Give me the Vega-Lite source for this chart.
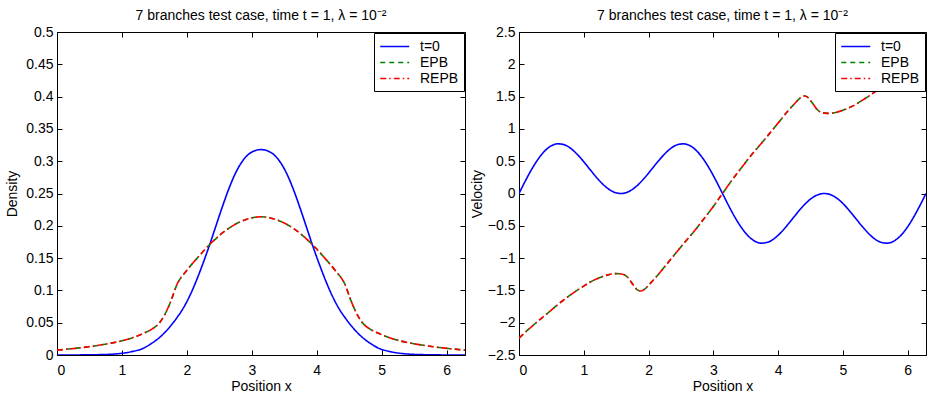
{
  "$schema": "https://vega.github.io/schema/vega-lite/v6.json",
  "padding": {"left": 5, "top": 8, "right": 0, "bottom": 0},
  "background": "white",
  "config": {
    "font": "Liberation Sans",
    "view": {"stroke": "black", "strokeWidth": 1},
    "axis": {"grid": false, "domain": false, "ticks": true, "tickColor": "black", "tickWidth": 1, "tickOpacity": 1, "zindex": 1, "labelColor": "black", "titleColor": "black", "labelFontSize": 14, "titleFontSize": 14, "titleFontWeight": "normal", "tickSize": 5, "offset": -5, "labelFont": "Liberation Sans", "titleFont": "Liberation Sans", "minExtent": 0},
    "axisX": {"labelPadding": 8, "titlePadding": 2},
    "axisY": {"labelPadding": 4},
    "title": {"fontSize": 14, "fontWeight": "normal", "offset": 2, "baseline": "alphabetic", "color": "black", "font": "Liberation Sans"},
    "legend": {"orient": "top-right", "offset": 1, "strokeColor": "black", "fillColor": "white", "padding": 5, "labelFontSize": 14, "symbolType": "M-1,0H3", "symbolSize": 210, "symbolStrokeWidth": 1.6, "rowPadding": 0, "labelOffset": 24, "cornerRadius": 0, "labelColor": "black", "labelFont": "Liberation Sans"}
  },
  "datasets": {
    "dens": [
      {"s": "t=0", "x": 0, "y": 0},
      {"s": "t=0", "x": 0.3416, "y": 0.0001},
      {"s": "t=0", "x": 0.6416, "y": 0.0005},
      {"s": "t=0", "x": 0.9416, "y": 0.002},
      {"s": "t=0", "x": 1.1416, "y": 0.005},
      {"s": "t=0", "x": 1.3416, "y": 0.011},
      {"s": "t=0", "x": 1.4416, "y": 0.017},
      {"s": "t=0", "x": 1.5416, "y": 0.024},
      {"s": "t=0", "x": 1.6416, "y": 0.033},
      {"s": "t=0", "x": 1.7416, "y": 0.044},
      {"s": "t=0", "x": 1.8416, "y": 0.057},
      {"s": "t=0", "x": 1.9416, "y": 0.072},
      {"s": "t=0", "x": 2.0416, "y": 0.091},
      {"s": "t=0", "x": 2.1416, "y": 0.114},
      {"s": "t=0", "x": 2.2416, "y": 0.14},
      {"s": "t=0", "x": 2.3416, "y": 0.168},
      {"s": "t=0", "x": 2.4416, "y": 0.198},
      {"s": "t=0", "x": 2.5416, "y": 0.228},
      {"s": "t=0", "x": 2.6416, "y": 0.256},
      {"s": "t=0", "x": 2.7416, "y": 0.28},
      {"s": "t=0", "x": 2.8416, "y": 0.298},
      {"s": "t=0", "x": 2.9416, "y": 0.31},
      {"s": "t=0", "x": 3.0416, "y": 0.316},
      {"s": "t=0", "x": 3.1416, "y": 0.318},
      {"s": "t=0", "x": 3.2416, "y": 0.316},
      {"s": "t=0", "x": 3.3416, "y": 0.31},
      {"s": "t=0", "x": 3.4416, "y": 0.298},
      {"s": "t=0", "x": 3.5416, "y": 0.28},
      {"s": "t=0", "x": 3.6416, "y": 0.256},
      {"s": "t=0", "x": 3.7416, "y": 0.228},
      {"s": "t=0", "x": 3.8416, "y": 0.198},
      {"s": "t=0", "x": 3.9416, "y": 0.168},
      {"s": "t=0", "x": 4.0416, "y": 0.14},
      {"s": "t=0", "x": 4.1416, "y": 0.114},
      {"s": "t=0", "x": 4.2416, "y": 0.091},
      {"s": "t=0", "x": 4.3416, "y": 0.072},
      {"s": "t=0", "x": 4.4416, "y": 0.057},
      {"s": "t=0", "x": 4.5416, "y": 0.044},
      {"s": "t=0", "x": 4.6416, "y": 0.033},
      {"s": "t=0", "x": 4.7416, "y": 0.024},
      {"s": "t=0", "x": 4.8416, "y": 0.017},
      {"s": "t=0", "x": 4.9416, "y": 0.011},
      {"s": "t=0", "x": 5.1416, "y": 0.005},
      {"s": "t=0", "x": 5.3416, "y": 0.002},
      {"s": "t=0", "x": 5.6416, "y": 0.0005},
      {"s": "t=0", "x": 5.9416, "y": 0.0001},
      {"s": "t=0", "x": 6.2832, "y": 0},
      {"s": "EPB", "x": 0, "y": 0.0075},
      {"s": "EPB", "x": 0.3416, "y": 0.011},
      {"s": "EPB", "x": 0.6416, "y": 0.015},
      {"s": "EPB", "x": 1.0016, "y": 0.022},
      {"s": "EPB", "x": 1.1416, "y": 0.026},
      {"s": "EPB", "x": 1.3416, "y": 0.034},
      {"s": "EPB", "x": 1.4616, "y": 0.04},
      {"s": "EPB", "x": 1.5716, "y": 0.049},
      {"s": "EPB", "x": 1.6516, "y": 0.061},
      {"s": "EPB", "x": 1.7516, "y": 0.083},
      {"s": "EPB", "x": 1.8516, "y": 0.11},
      {"s": "EPB", "x": 1.9916, "y": 0.13},
      {"s": "EPB", "x": 2.1416, "y": 0.148},
      {"s": "EPB", "x": 2.3916, "y": 0.175},
      {"s": "EPB", "x": 2.6416, "y": 0.196},
      {"s": "EPB", "x": 2.8916, "y": 0.209},
      {"s": "EPB", "x": 3.1416, "y": 0.214},
      {"s": "EPB", "x": 3.3916, "y": 0.209},
      {"s": "EPB", "x": 3.6416, "y": 0.196},
      {"s": "EPB", "x": 3.8916, "y": 0.175},
      {"s": "EPB", "x": 4.1416, "y": 0.148},
      {"s": "EPB", "x": 4.2916, "y": 0.13},
      {"s": "EPB", "x": 4.4316, "y": 0.11},
      {"s": "EPB", "x": 4.5316, "y": 0.083},
      {"s": "EPB", "x": 4.6316, "y": 0.061},
      {"s": "EPB", "x": 4.7116, "y": 0.049},
      {"s": "EPB", "x": 4.8216, "y": 0.04},
      {"s": "EPB", "x": 4.9416, "y": 0.034},
      {"s": "EPB", "x": 5.1416, "y": 0.026},
      {"s": "EPB", "x": 5.2816, "y": 0.022},
      {"s": "EPB", "x": 5.6416, "y": 0.015},
      {"s": "EPB", "x": 5.9416, "y": 0.011},
      {"s": "EPB", "x": 6.2832, "y": 0.0075},
      {"s": "REPB", "x": 0, "y": 0.0075},
      {"s": "REPB", "x": 0.3416, "y": 0.011},
      {"s": "REPB", "x": 0.6416, "y": 0.015},
      {"s": "REPB", "x": 1.0016, "y": 0.022},
      {"s": "REPB", "x": 1.1416, "y": 0.026},
      {"s": "REPB", "x": 1.3416, "y": 0.034},
      {"s": "REPB", "x": 1.4616, "y": 0.04},
      {"s": "REPB", "x": 1.5716, "y": 0.049},
      {"s": "REPB", "x": 1.6516, "y": 0.061},
      {"s": "REPB", "x": 1.7516, "y": 0.083},
      {"s": "REPB", "x": 1.8516, "y": 0.11},
      {"s": "REPB", "x": 1.9916, "y": 0.13},
      {"s": "REPB", "x": 2.1416, "y": 0.148},
      {"s": "REPB", "x": 2.3916, "y": 0.175},
      {"s": "REPB", "x": 2.6416, "y": 0.196},
      {"s": "REPB", "x": 2.8916, "y": 0.209},
      {"s": "REPB", "x": 3.1416, "y": 0.214},
      {"s": "REPB", "x": 3.3916, "y": 0.209},
      {"s": "REPB", "x": 3.6416, "y": 0.196},
      {"s": "REPB", "x": 3.8916, "y": 0.175},
      {"s": "REPB", "x": 4.1416, "y": 0.148},
      {"s": "REPB", "x": 4.2916, "y": 0.13},
      {"s": "REPB", "x": 4.4316, "y": 0.11},
      {"s": "REPB", "x": 4.5316, "y": 0.083},
      {"s": "REPB", "x": 4.6316, "y": 0.061},
      {"s": "REPB", "x": 4.7116, "y": 0.049},
      {"s": "REPB", "x": 4.8216, "y": 0.04},
      {"s": "REPB", "x": 4.9416, "y": 0.034},
      {"s": "REPB", "x": 5.1416, "y": 0.026},
      {"s": "REPB", "x": 5.2816, "y": 0.022},
      {"s": "REPB", "x": 5.6416, "y": 0.015},
      {"s": "REPB", "x": 5.9416, "y": 0.011},
      {"s": "REPB", "x": 6.2832, "y": 0.0075}
    ],
    "vel": [
      {"s": "t=0", "x": 0, "y": 0},
      {"s": "t=0", "x": 0.1, "y": 0.198},
      {"s": "t=0", "x": 0.2, "y": 0.382},
      {"s": "t=0", "x": 0.3, "y": 0.539},
      {"s": "t=0", "x": 0.4, "y": 0.661},
      {"s": "t=0", "x": 0.5, "y": 0.739},
      {"s": "t=0", "x": 0.6, "y": 0.769},
      {"s": "t=0", "x": 0.7, "y": 0.754},
      {"s": "t=0", "x": 0.8, "y": 0.697},
      {"s": "t=0", "x": 0.9, "y": 0.605},
      {"s": "t=0", "x": 1.0, "y": 0.491},
      {"s": "t=0", "x": 1.1, "y": 0.367},
      {"s": "t=0", "x": 1.2, "y": 0.245},
      {"s": "t=0", "x": 1.3, "y": 0.138},
      {"s": "t=0", "x": 1.4, "y": 0.057},
      {"s": "t=0", "x": 1.5, "y": 0.01},
      {"s": "t=0", "x": 1.5708, "y": 0},
      {"s": "t=0", "x": 1.6416, "y": 0.01},
      {"s": "t=0", "x": 1.7416, "y": 0.057},
      {"s": "t=0", "x": 1.8416, "y": 0.138},
      {"s": "t=0", "x": 1.9416, "y": 0.245},
      {"s": "t=0", "x": 2.0416, "y": 0.367},
      {"s": "t=0", "x": 2.1416, "y": 0.491},
      {"s": "t=0", "x": 2.2416, "y": 0.605},
      {"s": "t=0", "x": 2.3416, "y": 0.697},
      {"s": "t=0", "x": 2.4416, "y": 0.754},
      {"s": "t=0", "x": 2.5416, "y": 0.769},
      {"s": "t=0", "x": 2.6416, "y": 0.739},
      {"s": "t=0", "x": 2.7416, "y": 0.661},
      {"s": "t=0", "x": 2.8416, "y": 0.539},
      {"s": "t=0", "x": 2.9416, "y": 0.382},
      {"s": "t=0", "x": 3.0416, "y": 0.198},
      {"s": "t=0", "x": 3.1416, "y": 0},
      {"s": "t=0", "x": 3.2416, "y": -0.198},
      {"s": "t=0", "x": 3.3416, "y": -0.382},
      {"s": "t=0", "x": 3.4416, "y": -0.539},
      {"s": "t=0", "x": 3.5416, "y": -0.661},
      {"s": "t=0", "x": 3.6416, "y": -0.739},
      {"s": "t=0", "x": 3.7416, "y": -0.769},
      {"s": "t=0", "x": 3.8416, "y": -0.754},
      {"s": "t=0", "x": 3.9416, "y": -0.697},
      {"s": "t=0", "x": 4.0416, "y": -0.605},
      {"s": "t=0", "x": 4.1416, "y": -0.491},
      {"s": "t=0", "x": 4.2416, "y": -0.367},
      {"s": "t=0", "x": 4.3416, "y": -0.245},
      {"s": "t=0", "x": 4.4416, "y": -0.138},
      {"s": "t=0", "x": 4.5416, "y": -0.057},
      {"s": "t=0", "x": 4.6416, "y": -0.01},
      {"s": "t=0", "x": 4.7124, "y": 0},
      {"s": "t=0", "x": 4.7832, "y": -0.01},
      {"s": "t=0", "x": 4.8832, "y": -0.057},
      {"s": "t=0", "x": 4.9832, "y": -0.138},
      {"s": "t=0", "x": 5.0832, "y": -0.245},
      {"s": "t=0", "x": 5.1832, "y": -0.367},
      {"s": "t=0", "x": 5.2832, "y": -0.491},
      {"s": "t=0", "x": 5.3832, "y": -0.605},
      {"s": "t=0", "x": 5.4832, "y": -0.697},
      {"s": "t=0", "x": 5.5832, "y": -0.754},
      {"s": "t=0", "x": 5.6832, "y": -0.769},
      {"s": "t=0", "x": 5.7832, "y": -0.739},
      {"s": "t=0", "x": 5.8832, "y": -0.661},
      {"s": "t=0", "x": 5.9832, "y": -0.539},
      {"s": "t=0", "x": 6.0832, "y": -0.382},
      {"s": "t=0", "x": 6.1832, "y": -0.198},
      {"s": "t=0", "x": 6.2832, "y": 0},
      {"s": "EPB", "x": 0, "y": -2.24},
      {"s": "EPB", "x": 0.15, "y": -2.1},
      {"s": "EPB", "x": 0.3, "y": -1.97},
      {"s": "EPB", "x": 0.47, "y": -1.83},
      {"s": "EPB", "x": 0.6, "y": -1.72},
      {"s": "EPB", "x": 0.72, "y": -1.625},
      {"s": "EPB", "x": 0.85, "y": -1.53},
      {"s": "EPB", "x": 0.98, "y": -1.445},
      {"s": "EPB", "x": 1.1, "y": -1.37},
      {"s": "EPB", "x": 1.24, "y": -1.305},
      {"s": "EPB", "x": 1.37, "y": -1.26},
      {"s": "EPB", "x": 1.5, "y": -1.24},
      {"s": "EPB", "x": 1.6, "y": -1.25},
      {"s": "EPB", "x": 1.68, "y": -1.3},
      {"s": "EPB", "x": 1.76, "y": -1.41},
      {"s": "EPB", "x": 1.84, "y": -1.5},
      {"s": "EPB", "x": 1.88, "y": -1.51},
      {"s": "EPB", "x": 1.94, "y": -1.48},
      {"s": "EPB", "x": 2.02, "y": -1.4},
      {"s": "EPB", "x": 2.12, "y": -1.29},
      {"s": "EPB", "x": 2.3, "y": -1.07},
      {"s": "EPB", "x": 2.53, "y": -0.79},
      {"s": "EPB", "x": 2.7, "y": -0.59},
      {"s": "EPB", "x": 2.84, "y": -0.41},
      {"s": "EPB", "x": 3.0, "y": -0.2},
      {"s": "EPB", "x": 3.1416, "y": 0},
      {"s": "EPB", "x": 3.2832, "y": 0.2},
      {"s": "EPB", "x": 3.4432, "y": 0.41},
      {"s": "EPB", "x": 3.5832, "y": 0.59},
      {"s": "EPB", "x": 3.7532, "y": 0.79},
      {"s": "EPB", "x": 3.9832, "y": 1.07},
      {"s": "EPB", "x": 4.1632, "y": 1.29},
      {"s": "EPB", "x": 4.2632, "y": 1.4},
      {"s": "EPB", "x": 4.3432, "y": 1.48},
      {"s": "EPB", "x": 4.4032, "y": 1.51},
      {"s": "EPB", "x": 4.4432, "y": 1.5},
      {"s": "EPB", "x": 4.5232, "y": 1.41},
      {"s": "EPB", "x": 4.6032, "y": 1.3},
      {"s": "EPB", "x": 4.6832, "y": 1.25},
      {"s": "EPB", "x": 4.7832, "y": 1.24},
      {"s": "EPB", "x": 4.9132, "y": 1.26},
      {"s": "EPB", "x": 5.0432, "y": 1.305},
      {"s": "EPB", "x": 5.1832, "y": 1.37},
      {"s": "EPB", "x": 5.3032, "y": 1.445},
      {"s": "EPB", "x": 5.4332, "y": 1.53},
      {"s": "EPB", "x": 5.5632, "y": 1.625},
      {"s": "EPB", "x": 5.6832, "y": 1.72},
      {"s": "EPB", "x": 5.8132, "y": 1.83},
      {"s": "EPB", "x": 5.9832, "y": 1.97},
      {"s": "EPB", "x": 6.1332, "y": 2.1},
      {"s": "EPB", "x": 6.2832, "y": 2.24},
      {"s": "REPB", "x": 0, "y": -2.24},
      {"s": "REPB", "x": 0.15, "y": -2.1},
      {"s": "REPB", "x": 0.3, "y": -1.97},
      {"s": "REPB", "x": 0.47, "y": -1.83},
      {"s": "REPB", "x": 0.6, "y": -1.72},
      {"s": "REPB", "x": 0.72, "y": -1.625},
      {"s": "REPB", "x": 0.85, "y": -1.53},
      {"s": "REPB", "x": 0.98, "y": -1.445},
      {"s": "REPB", "x": 1.1, "y": -1.37},
      {"s": "REPB", "x": 1.24, "y": -1.305},
      {"s": "REPB", "x": 1.37, "y": -1.26},
      {"s": "REPB", "x": 1.5, "y": -1.24},
      {"s": "REPB", "x": 1.6, "y": -1.25},
      {"s": "REPB", "x": 1.68, "y": -1.3},
      {"s": "REPB", "x": 1.76, "y": -1.41},
      {"s": "REPB", "x": 1.84, "y": -1.5},
      {"s": "REPB", "x": 1.88, "y": -1.51},
      {"s": "REPB", "x": 1.94, "y": -1.48},
      {"s": "REPB", "x": 2.02, "y": -1.4},
      {"s": "REPB", "x": 2.12, "y": -1.29},
      {"s": "REPB", "x": 2.3, "y": -1.07},
      {"s": "REPB", "x": 2.53, "y": -0.79},
      {"s": "REPB", "x": 2.7, "y": -0.59},
      {"s": "REPB", "x": 2.84, "y": -0.41},
      {"s": "REPB", "x": 3.0, "y": -0.2},
      {"s": "REPB", "x": 3.1416, "y": 0},
      {"s": "REPB", "x": 3.2832, "y": 0.2},
      {"s": "REPB", "x": 3.4432, "y": 0.41},
      {"s": "REPB", "x": 3.5832, "y": 0.59},
      {"s": "REPB", "x": 3.7532, "y": 0.79},
      {"s": "REPB", "x": 3.9832, "y": 1.07},
      {"s": "REPB", "x": 4.1632, "y": 1.29},
      {"s": "REPB", "x": 4.2632, "y": 1.4},
      {"s": "REPB", "x": 4.3432, "y": 1.48},
      {"s": "REPB", "x": 4.4032, "y": 1.51},
      {"s": "REPB", "x": 4.4432, "y": 1.5},
      {"s": "REPB", "x": 4.5232, "y": 1.41},
      {"s": "REPB", "x": 4.6032, "y": 1.3},
      {"s": "REPB", "x": 4.6832, "y": 1.25},
      {"s": "REPB", "x": 4.7832, "y": 1.24},
      {"s": "REPB", "x": 4.9132, "y": 1.26},
      {"s": "REPB", "x": 5.0432, "y": 1.305},
      {"s": "REPB", "x": 5.1832, "y": 1.37},
      {"s": "REPB", "x": 5.3032, "y": 1.445},
      {"s": "REPB", "x": 5.4332, "y": 1.53},
      {"s": "REPB", "x": 5.5632, "y": 1.625},
      {"s": "REPB", "x": 5.6832, "y": 1.72},
      {"s": "REPB", "x": 5.8132, "y": 1.83},
      {"s": "REPB", "x": 5.9832, "y": 1.97},
      {"s": "REPB", "x": 6.1332, "y": 2.1},
      {"s": "REPB", "x": 6.2832, "y": 2.24}
    ]
  },
  "spacing": 0,
  "resolve": {"scale": {"color": "independent", "strokeDash": "independent"}, "legend": {"color": "independent", "strokeDash": "independent"}},
  "hconcat": [
    {
      "width": 408,
      "height": 323,
      "title": {"text": "7 branches test case, time t = 1, λ = 10⁻²"},
      "data": {"name": "dens"},
      "resolve": {"axis": {"x": "independent", "y": "independent"}},
      "layer": [
        {
          "mark": {"type": "line", "strokeWidth": 1.6, "interpolate": "monotone", "clip": true},
          "encoding": {
            "x": {"field": "x", "type": "quantitative", "scale": {"domain": [0, 6.2832], "nice": false, "zero": false}, "axis": {"title": "Position x", "values": [0, 1, 2, 3, 4, 5, 6]}},
            "y": {"field": "y", "type": "quantitative", "scale": {"domain": [0, 0.5], "nice": false}, "axis": {"title": "Density", "values": [0, 0.05, 0.1, 0.15, 0.2, 0.25, 0.3, 0.35, 0.4, 0.45, 0.5], "format": "~g", "titlePadding": 6}},
            "color": {"field": "s", "type": "nominal", "scale": {"domain": ["t=0", "EPB", "REPB"], "range": ["#0000ff", "#008000", "#ff0000"]}, "legend": {"title": null}},
            "strokeDash": {"field": "s", "type": "nominal", "scale": {"domain": ["t=0", "EPB", "REPB"], "range": [[1, 0], [5, 4], [6, 3, 1.5, 3]]}, "legend": {"title": null}}
          }
        },
        {
          "mark": {"type": "point", "opacity": 0},
          "encoding": {
            "x": {"field": "x", "type": "quantitative", "scale": {"domain": [0, 6.2832], "nice": false, "zero": false}, "axis": {"orient": "top", "labels": false, "title": null, "values": [0, 1, 2, 3, 4, 5, 6], "maxExtent": 0, "labelPadding": 0}},
            "y": {"field": "y", "type": "quantitative", "scale": {"domain": [0, 0.5], "nice": false}, "axis": {"orient": "right", "labels": false, "title": null, "values": [0, 0.05, 0.1, 0.15, 0.2, 0.25, 0.3, 0.35, 0.4, 0.45, 0.5], "maxExtent": 0, "labelPadding": 0}}
          }
        }
      ]
    },
    {
      "width": 407,
      "height": 323,
      "title": {"text": "7 branches test case, time t = 1, λ = 10⁻²"},
      "data": {"name": "vel"},
      "resolve": {"axis": {"x": "independent", "y": "independent"}},
      "layer": [
        {
          "mark": {"type": "line", "strokeWidth": 1.6, "interpolate": "monotone", "clip": true},
          "encoding": {
            "x": {"field": "x", "type": "quantitative", "scale": {"domain": [0, 6.2832], "nice": false, "zero": false}, "axis": {"title": "Position x", "values": [0, 1, 2, 3, 4, 5, 6]}},
            "y": {"field": "y", "type": "quantitative", "scale": {"domain": [-2.5, 2.5], "nice": false, "zero": false}, "axis": {"title": "Velocity", "values": [-2.5, -2, -1.5, -1, -0.5, 0, 0.5, 1, 1.5, 2, 2.5], "format": "~g", "titlePadding": 3}},
            "color": {"field": "s", "type": "nominal", "scale": {"domain": ["t=0", "EPB", "REPB"], "range": ["#0000ff", "#008000", "#ff0000"]}, "legend": {"title": null}},
            "strokeDash": {"field": "s", "type": "nominal", "scale": {"domain": ["t=0", "EPB", "REPB"], "range": [[1, 0], [5, 4], [6, 3, 1.5, 3]]}, "legend": {"title": null}}
          }
        },
        {
          "mark": {"type": "point", "opacity": 0},
          "encoding": {
            "x": {"field": "x", "type": "quantitative", "scale": {"domain": [0, 6.2832], "nice": false, "zero": false}, "axis": {"orient": "top", "labels": false, "title": null, "values": [0, 1, 2, 3, 4, 5, 6], "maxExtent": 0, "labelPadding": 0}},
            "y": {"field": "y", "type": "quantitative", "scale": {"domain": [-2.5, 2.5], "nice": false, "zero": false}, "axis": {"orient": "right", "labels": false, "title": null, "values": [-2.5, -2, -1.5, -1, -0.5, 0, 0.5, 1, 1.5, 2, 2.5], "maxExtent": 0, "labelPadding": 0}}
          }
        }
      ]
    }
  ]
}
